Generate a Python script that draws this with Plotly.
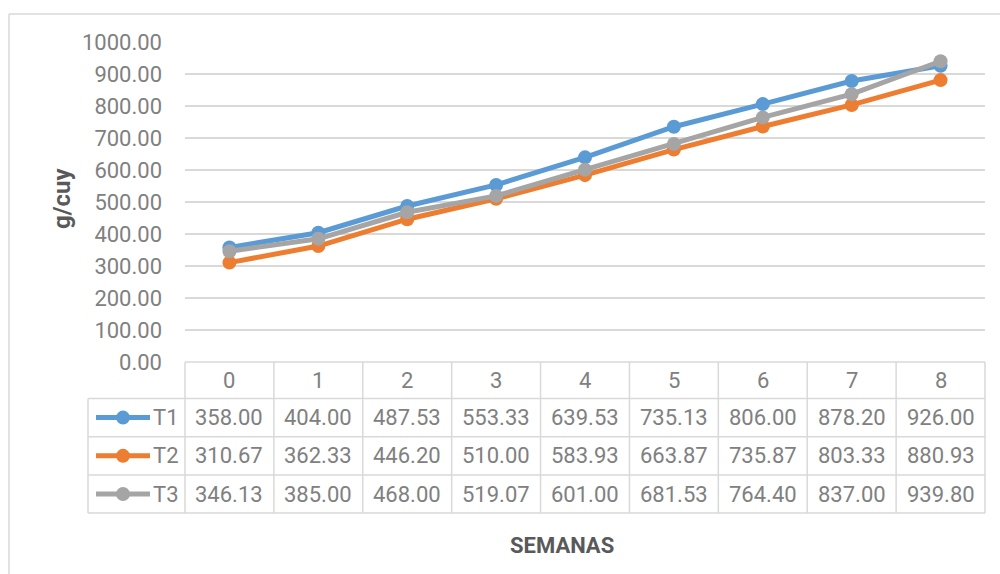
import plotly.graph_objects as go

semanas = [0, 1, 2, 3, 4, 5, 6, 7, 8]
series_names = ["T1", "T2", "T3"]
t1 = [358.00, 404.00, 487.53, 553.33, 639.53, 735.13, 806.00, 878.20, 926.00]
t2 = [310.67, 362.33, 446.20, 510.00, 583.93, 663.87, 735.87, 803.33, 880.93]
t3 = [346.13, 385.00, 468.00, 519.07, 601.00, 681.53, 764.40, 837.00, 939.80]
colors = ["#5B9BD5", "#ED7D31", "#A5A5A5"]
y_ticks = [0, 100, 200, 300, 400, 500, 600, 700, 800, 900, 1000]

W, H = 1000, 574
L, R, T, B = 185, 15, 42, 212
PW = W - L - R
PH = H - T - B
FONT = "Roboto, Liberation Sans, sans-serif"
TXT = "#808080"
GRID = "#d9d9d9"
FS = 22

def px(x):
    return (x - L) / PW

def py(y):
    return (H - B - y) / PH

fig = go.Figure()
all_series = [t1, t2, t3]
for name, vals, c in zip(series_names, all_series, colors):
    fig.add_trace(go.Scatter(x=semanas, y=vals, name=name, mode="lines+markers",
                             line=dict(color=c, width=5),
                             marker=dict(color=c, size=14),
                             cliponaxis=False, hoverinfo="skip"))

shapes = []
annotations = []

# outer chart border
shapes.append(dict(type="line", xref="paper", yref="paper", x0=px(9), x1=px(1000), y0=py(14), y1=py(14),
                   line=dict(color=GRID, width=1.5)))
shapes.append(dict(type="line", xref="paper", yref="paper", x0=px(9), x1=px(9), y0=py(14), y1=py(574),
                   line=dict(color=GRID, width=1.5)))

# table geometry (pixels)
row_edges = [362, 398.5, 436.7, 475, 513]
col_w = PW / len(semanas)
shapes.append(dict(type="line", xref="paper", yref="paper", x0=px(185), x1=px(985), y0=py(row_edges[0]), y1=py(row_edges[0]),
                   line=dict(color=GRID, width=1.5)))
for ye in row_edges[1:]:
    shapes.append(dict(type="line", xref="paper", yref="paper", x0=px(88), x1=px(985), y0=py(ye), y1=py(ye),
                       line=dict(color=GRID, width=1.5)))
for i in range(len(semanas) + 1):
    xe = 185 + i * col_w
    shapes.append(dict(type="line", xref="paper", yref="paper", x0=px(xe), x1=px(xe), y0=py(row_edges[0]), y1=py(row_edges[-1]),
                       line=dict(color=GRID, width=1.5)))
shapes.append(dict(type="line", xref="paper", yref="paper", x0=px(88), x1=px(88), y0=py(row_edges[1]), y1=py(row_edges[-1]),
                   line=dict(color=GRID, width=1.5)))

hc = (row_edges[0] + row_edges[1]) / 2
for s in semanas:
    annotations.append(dict(x=s, y=py(hc), xref="x", yref="paper", text=str(s), showarrow=False,
                            font=dict(family=FONT, size=FS, color=TXT), xanchor="center", yanchor="middle"))

for r, (name, vals, c) in enumerate(zip(series_names, all_series, colors)):
    yc = (row_edges[r + 1] + row_edges[r + 2]) / 2
    for s, v in zip(semanas, vals):
        annotations.append(dict(x=s, y=py(yc), xref="x", yref="paper", text=f"{v:.2f}", showarrow=False,
                                font=dict(family=FONT, size=FS, color=TXT), xanchor="center", yanchor="middle"))
    shapes.append(dict(type="line", xref="paper", yref="paper", x0=px(96), x1=px(150), y0=py(yc), y1=py(yc),
                       line=dict(color=c, width=5)))
    shapes.append(dict(type="circle", xref="paper", yref="paper", x0=px(116), x1=px(130), y0=py(yc - 7), y1=py(yc + 7),
                       fillcolor=c, line=dict(color=c, width=0)))
    annotations.append(dict(x=px(151), y=py(yc), xref="paper", yref="paper", text=name, showarrow=False,
                            font=dict(family=FONT, size=FS, color=TXT), xanchor="left", yanchor="middle"))

annotations.append(dict(x=px(562), y=py(545), xref="paper", yref="paper", text="<b>SEMANAS</b>", showarrow=False,
                        font=dict(family=FONT, size=22, color="#595959"), xanchor="center", yanchor="middle"))
annotations.append(dict(x=px(62), y=py(198), xref="paper", yref="paper", text="<b>g/cuy</b>", showarrow=False,
                        textangle=-90, font=dict(family=FONT, size=24, color="#595959"), xanchor="center", yanchor="middle"))

fig.update_layout(
    width=W, height=H,
    margin=dict(l=L, r=R, t=T, b=B),
    paper_bgcolor="white", plot_bgcolor="white",
    showlegend=False, hovermode=False,
    shapes=shapes, annotations=annotations,
    xaxis=dict(range=[-0.5, 8.5], showgrid=False, showticklabels=False, zeroline=False, ticks=""),
    yaxis=dict(range=[0, 1000], tickvals=y_ticks, ticktext=[f"{v:.2f}" for v in y_ticks],
               showgrid=True, gridcolor=GRID, gridwidth=1.5, zeroline=False,
               tickfont=dict(family=FONT, size=FS, color=TXT), ticks="", ticklabelstandoff=22),
)

fig.write_html("out.html", config={"displayModeBar": False},
               post_script="document.body.style.margin='0';document.body.style.padding='0';")
